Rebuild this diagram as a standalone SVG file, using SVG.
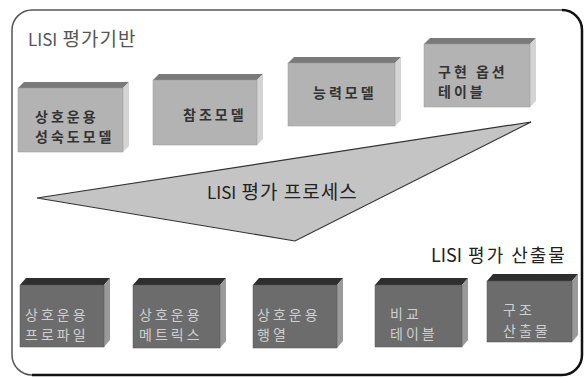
<svg xmlns="http://www.w3.org/2000/svg" width="585" height="378" viewBox="0 0 585 378">
<style>
text{font-family:"Noto Sans CJK KR","Liberation Sans",sans-serif}
.lf{fill:#b3b3b3;stroke:#999;stroke-width:0.5}
.lt{fill:#7a7a7a}
.ls{fill:#d4d4d4}
.df{fill:#6c6c6c;stroke:#555;stroke-width:0.5}
.dt{fill:#2e2e2e}
.ds{fill:#9a9a9a}
.lbl{font-size:14px;fill:#333;font-weight:bold;letter-spacing:3px}
.dlbl{font-size:14px;fill:#cfcfcf;letter-spacing:3px}
.hd{font-size:17px;fill:#222}
.ko{font-size:19px;letter-spacing:1px}
</style>
<rect width="585" height="378" fill="#fff"/>
<g id="frame">
<rect x="12" y="10" width="570" height="365" rx="20" ry="20" fill="none" stroke="#555" stroke-width="1.5"/>
<path d="M562 10 A20 20 0 0 1 582 30 L582 355 A20 20 0 0 1 562 375 L32 375" fill="none" stroke="#111" stroke-width="2.5"/>
</g>
<text x="28" y="46" style="font-size:17px;fill:#555">LISI<tspan class="ko"> 평가기반</tspan></text>
<g id="process">
<polygon points="37,198 531,122 295,241" fill="#c4c4c4" stroke="#333" stroke-width="1.2"/>
<text x="207" y="199" class="hd">LISI<tspan class="ko"> 평가 프로세스</tspan></text>
</g>
<text x="431" y="262" class="hd" style="font-size:18px">LISI<tspan style="letter-spacing:2px"> 평가 산출물</tspan></text>
<g id="n1">
<polygon class="lt" points="18,88 24,82 129,82 123,88"/>
<polygon class="ls" points="123,88 129,82 129,146 123,152"/>
<rect class="lf" x="18" y="88" width="105" height="64"/>
<text class="lbl"><tspan x="35" y="122">상호운용</tspan><tspan x="35" y="142">성숙도모델</tspan></text>
</g>
<g id="n2">
<polygon class="lt" points="153,80 159,74 263,74 257,80"/>
<polygon class="ls" points="257,80 263,74 263,139 257,145"/>
<rect class="lf" x="153" y="80" width="104" height="65"/>
<text class="lbl" x="183" y="120">참조모델</text>
</g>
<g id="n3">
<polygon class="lt" points="288,63 294,57 401,57 395,63"/>
<polygon class="ls" points="395,63 401,57 401,120 395,126"/>
<rect class="lf" x="288" y="63" width="107" height="63"/>
<text class="lbl" x="313" y="98">능력모델</text>
</g>
<g id="n4">
<polygon class="lt" points="424,44 430,38 536,38 530,44"/>
<polygon class="ls" points="530,44 536,38 536,101 530,107"/>
<rect class="lf" x="424" y="44" width="106" height="63"/>
<text class="lbl"><tspan x="438" y="77">구현 옵션</tspan><tspan x="438" y="97">테이블</tspan></text>
</g>
<g id="m1">
<polygon class="dt" points="20,285 26,278 110,278 104,285"/>
<polygon class="ds" points="104,285 110,278 110,340 104,347"/>
<rect class="df" x="20" y="285" width="84" height="62"/>
<text class="dlbl"><tspan x="25" y="320">상호운용</tspan><tspan x="25" y="340">프로파일</tspan></text>
</g>
<g id="m2">
<polygon class="dt" points="133,285 139,278 226,278 220,285"/>
<polygon class="ds" points="220,285 226,278 226,341 220,348"/>
<rect class="df" x="133" y="285" width="87" height="63"/>
<text class="dlbl"><tspan x="139" y="320">상호운용</tspan><tspan x="139" y="340">메트릭스</tspan></text>
</g>
<g id="m3">
<polygon class="dt" points="253,285 259,278 343,278 337,285"/>
<polygon class="ds" points="337,285 343,278 343,341 337,348"/>
<rect class="df" x="253" y="285" width="84" height="63"/>
<text class="dlbl"><tspan x="257" y="320">상호운용</tspan><tspan x="257" y="340">행열</tspan></text>
</g>
<g id="m4">
<polygon class="dt" points="375,285 381,278 468,278 462,285"/>
<polygon class="ds" points="462,285 468,278 468,340 462,347"/>
<rect class="df" x="375" y="285" width="87" height="62"/>
<text class="dlbl"><tspan x="390" y="319">비교</tspan><tspan x="390" y="339">테이블</tspan></text>
</g>
<g id="m5">
<polygon class="dt" points="487,281 493,274 578,274 572,281"/>
<polygon class="ds" points="572,281 578,274 578,335 572,342"/>
<rect class="df" x="487" y="281" width="85" height="61"/>
<text class="dlbl"><tspan x="503" y="315">구조</tspan><tspan x="503" y="336">산출물</tspan></text>
</g>
</svg>
